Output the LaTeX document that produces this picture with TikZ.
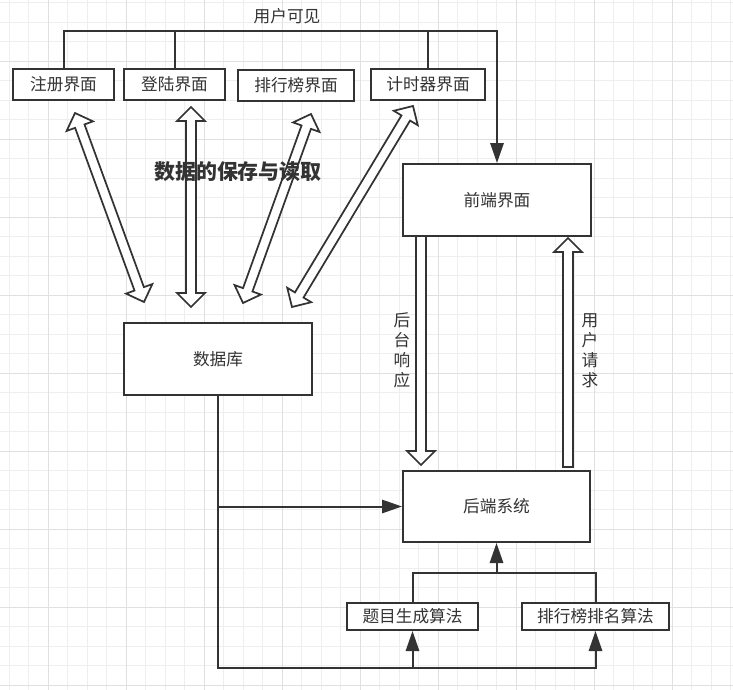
\documentclass[tikz,border=0pt]{standalone}
\usepackage{fontspec}
\setmainfont{Noto Sans CJK SC}
\usepackage{tikz}
\usetikzlibrary{arrows.meta,calc}
\definecolor{ink}{HTML}{333333}
\definecolor{gridminor}{HTML}{EEEEEE}
\definecolor{gridmajor}{HTML}{E0E0E0}

% hollow block arrow: #1 from, #2 to, #3 = 1 for a head at both ends
\newcommand{\hollowarrow}[3]{%
  \path let \p1=(#1), \p2=(#2) in \pgfextra{%
    \pgfmathsetmacro\halen{veclen(\x2-\x1,\y2-\y1)}%
    \pgfmathsetmacro\haang{atan2(\y2-\y1,\x2-\x1)}%
    \xdef\halen{\halen}\xdef\haang{\haang}};
  \pgfmathsetmacro\habase{\halen-10.5}%
  \begin{scope}[shift={(#1)},rotate=\haang]
  \ifnum#3=1
    \draw[hollow] (0pt,0pt) -- (10.5pt,10.5pt) -- (10.5pt,3.75pt) -- (\habase pt,3.75pt)
      -- (\habase pt,10.5pt) -- (\halen pt,0pt) -- (\habase pt,-10.5pt) -- (\habase pt,-3.75pt)
      -- (10.5pt,-3.75pt) -- (10.5pt,-10.5pt) -- cycle;
  \else
    \draw[hollow] (0pt,3.75pt) -- (\habase pt,3.75pt) -- (\habase pt,10.5pt) -- (\halen pt,0pt)
      -- (\habase pt,-10.5pt) -- (\habase pt,-3.75pt) -- (0pt,-3.75pt) -- cycle;
  \fi
  \end{scope}}

\begin{document}
\begin{tikzpicture}[x=.75pt,y=-.75pt,
  >={Triangle[length=15pt,width=10pt]},
  gridline/.style={gridminor,line width=.75pt},
  gridbold/.style={gridmajor,line width=.75pt},
  lbl/.style={text=ink,font=\fontsize{12.5}{15}\selectfont},
  box/.style={lbl,draw=ink,line width=1.5pt,fill=white,inner sep=0pt,minimum width=#1*.75pt},
  topbox/.style={box=#1,minimum height=31*.75pt},
  algbox/.style={box=#1,minimum height=27*.75pt},
  bigbox/.style={box=188,minimum height=72*.75pt},
  conn/.style={draw=ink,line width=1.5pt},
  hollow/.style={draw=ink,fill=white,line width=1.3pt,line join=miter}]
\useasboundingbox[fill=white] (0,0) rectangle (733,690);
% background grid
\foreach \k in {-2,...,35} \draw[gridline] ({48+19.5*\k},0) -- ++(0,690);
\foreach \k in {-3,...,32} \draw[gridline] (0,{61+19.5*\k}) -- ++(733,0);
\foreach \k in {0,...,8} {
  \draw[gridbold] ({48+78*\k},0) -- ++(0,690);
  \draw[gridbold] (0,{61+78*\k}) -- ++(733,0);
}

% boxes
\node[topbox=101] (reg) at (63.5,84.5) {注册界面};
\node[topbox=101] (login) at (174.5,84.5) {登陆界面};
\node[topbox=116] (rank) at (296,85) {排行榜界面};
\node[topbox=114] (timer) at (428,84.5) {计时器界面};
\node[bigbox] (front) at (497,200) {前端界面};
\node[bigbox] (db) at (218,359) {数据库};
\node[bigbox,minimum width=187*.75pt,minimum height=71*.75pt] (back) at (496.5,506.5) {后端系统};
\node[algbox=131] (gen) at (412.5,616.5) {题目生成算法};
\node[algbox=147] (sort) at (595.5,616.5) {排行榜排名算法};

% what the user sees
\coordinate (bus) at (497,31);
\draw[conn,->] (reg.north) |- (bus) -- (front.north);
\draw[conn] (login.north) -- (login.north |- bus);
\draw[conn] (timer.north) -- (timer.north |- bus);
\node[lbl] (visible) at (287,16) {用户可见};

% data between pages and database
\coordinate (regend) at (75,113);   \coordinate (regdb) at (144,302);
\coordinate (loginend) at (191,107); \coordinate (logindb) at (191,307);
\coordinate (rankend) at (311,114);  \coordinate (rankdb) at (243,303);
\coordinate (timerend) at (413,106); \coordinate (timerdb) at (292,307);
\hollowarrow{regend}{regdb}{1}
\hollowarrow{loginend}{logindb}{1}
\hollowarrow{rankend}{rankdb}{1}
\hollowarrow{timerend}{timerdb}{1}
\node[text=ink,font=\fontsize{15.7}{18}\selectfont\bfseries] (store) at (238,172) {数据的保存与读取};

% front end <-> back end
\coordinate (resptop) at (421,236); \coordinate (respend) at (421,465);
\coordinate (reqtail) at (568,467); \coordinate (reqend) at (568,238);
\hollowarrow{resptop}{respend}{0}
\hollowarrow{reqtail}{reqend}{0}
\node[lbl,align=center] (resp) at (402,350) {后\\台\\响\\应};
\node[lbl,align=center] (req) at (590,351) {用\\户\\请\\求};

% database to back end and algorithms
\coordinate (low) at (218,668);
\draw[conn,->] (db.south |- back.west) -- (back.west);
\draw[conn,->] (db.south) -- (low) -| (sort.south);
\draw[conn,->] (low -| gen.south) -- (gen.south);
\coordinate (merge) at (back.south |- 0,573);
\draw[conn] (gen.north) |- (merge) -| (sort.north);
\draw[conn,->] (merge) -- (back.south);
\end{tikzpicture}
\end{document}
